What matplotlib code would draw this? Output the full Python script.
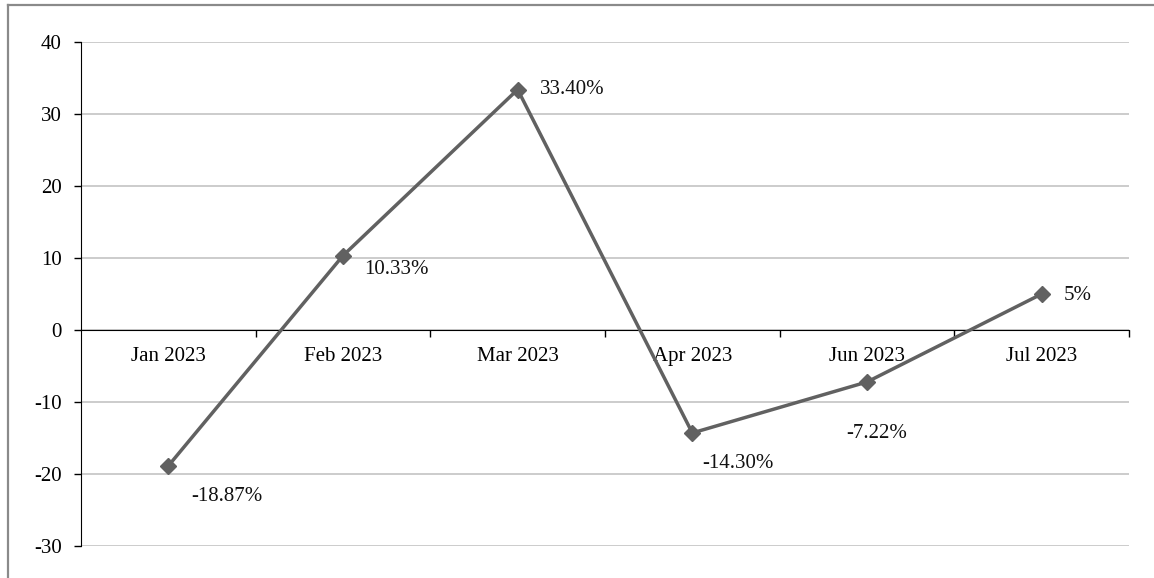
import matplotlib
matplotlib.use("Agg")
import matplotlib.pyplot as plt
from matplotlib.lines import Line2D

# data
months = ["Jan 2023", "Feb 2023", "Mar 2023", "Apr 2023", "Jun 2023", "Jul 2023"]
change = [-18.87, 10.33, 33.40, -14.30, -7.22, 5]
labels = ["-18.87%", "10.33%", "33.40%", "-14.30%", "-7.22%", "5%"]
# label offsets (points) relative to each marker
offsets = [(16.5, -22), (15, -10), (16, 0), (7, -22), (-15, -37), (16, -1)]

plt.rcParams['font.family'] = ['Liberation Serif', 'DejaVu Serif']
plt.rcParams['font.size'] = 15
plt.rcParams['axes.unicode_minus'] = False

fig = plt.figure(figsize=(11.54, 5.78), dpi=100)
ax = fig.add_axes([0.0702, 0.0554, 0.9081, 0.8719])

x = list(range(len(months)))
ax.plot(x, change, color='#616161', lw=2.5, marker='D', markersize=8.5,
        markerfacecolor='#616161', markeredgecolor='#616161', zorder=3)

for xi, yi, lab, off in zip(x, change, labels, offsets):
    ax.annotate(lab, (xi, yi), xytext=off, textcoords='offset points',
                ha='left', va='center', color='#111111')

ax.set_xlim(-0.5, len(months) - 0.5)
ax.set_ylim(-30, 40)
ax.set_yticks(range(-30, 41, 10))
ax.yaxis.grid(True, color='#c8c8c8', lw=1.3)
ax.set_axisbelow(True)

ax.set_xticks(x)
ax.set_xticklabels(months)
ax.set_xticks([i + 0.5 for i in x], minor=True)
ax.tick_params(axis='x', which='major', length=0, pad=12)
ax.tick_params(axis='x', which='minor', length=5, width=1, direction='out', color='black')
ax.tick_params(axis='y', length=5, width=1, direction='out', pad=9, colors='black')

ax.spines['bottom'].set_position(('data', 0))
ax.spines['bottom'].set_color('black')
ax.spines['left'].set_color('black')
ax.spines['top'].set_visible(False)
ax.spines['right'].set_visible(False)

# outer frame (left + top edges visible in reference)
fig.add_artist(Line2D([0.0065, 0.0065], [0, 0.9905], transform=fig.transFigure,
                      color='#8a8a8a', lw=1.6))
fig.add_artist(Line2D([0.0065, 1.0], [0.9905, 0.9905], transform=fig.transFigure,
                      color='#8a8a8a', lw=1.6))

fig.savefig("out.png", dpi=100, facecolor='white')
